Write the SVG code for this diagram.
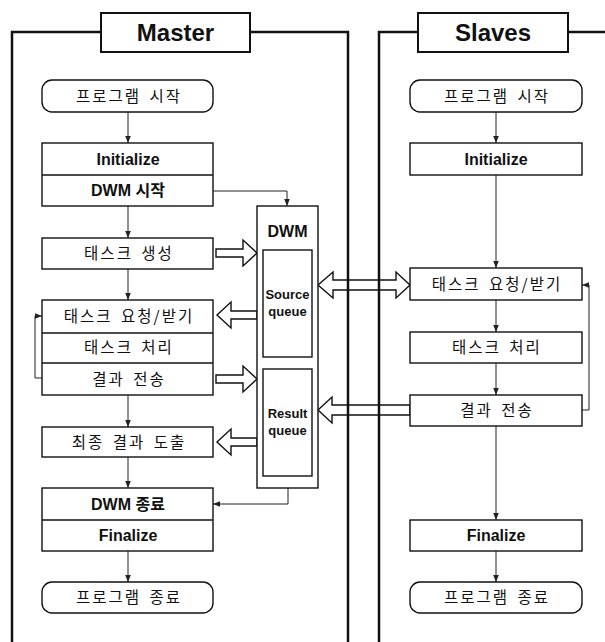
<svg xmlns="http://www.w3.org/2000/svg" width="605" height="642" viewBox="0 0 605 642">
<style>
.frame{fill:none;stroke:#111;stroke-width:2.5}
.lbl{fill:#fff;stroke:#111;stroke-width:2}
.box{fill:#fff;stroke:#111;stroke-width:1.4}
.sep{stroke:#111;stroke-width:1.4}
.con{fill:none;stroke:#222;stroke-width:1}
.blk{fill:#fff;stroke:#111;stroke-width:1.4;stroke-linejoin:miter}
.kr{font-family:"Noto Sans CJK KR","Noto Sans",sans-serif;font-size:15.5px;letter-spacing:2px;word-spacing:3px;fill:#111;text-anchor:middle}
.en{font-family:"Liberation Sans","Noto Sans CJK KR",sans-serif;font-size:16px;font-weight:bold;fill:#111;text-anchor:middle}
.ttl{font-family:"Liberation Sans",sans-serif;font-size:24px;font-weight:bold;fill:#111;text-anchor:middle}
.q{font-family:"Liberation Sans",sans-serif;font-size:13px;font-weight:bold;fill:#111;text-anchor:middle}
</style>
<defs>
<marker id="ah" viewBox="0 0 10 10" refX="10" refY="5" markerWidth="7" markerHeight="7" orient="auto" markerUnits="userSpaceOnUse">
<path d="M0,1 L10,5 L0,9 Z" fill="#222"/>
</marker>
</defs>

<g id="connectors">
<line class="con" x1="128" y1="112" x2="128" y2="143" marker-end="url(#ah)"/>
<line class="con" x1="128" y1="206" x2="128" y2="238" marker-end="url(#ah)"/>
<line class="con" x1="128" y1="269" x2="128" y2="300" marker-end="url(#ah)"/>
<line class="con" x1="128" y1="395" x2="128" y2="427" marker-end="url(#ah)"/>
<line class="con" x1="128" y1="457" x2="128" y2="488" marker-end="url(#ah)"/>
<line class="con" x1="128" y1="551" x2="128" y2="582" marker-end="url(#ah)"/>
<polyline class="con" points="42,378 35,378 35,316 42,316" marker-end="url(#ah)"/>
<polyline class="con" points="213,191 287,191 287,206" marker-end="url(#ah)"/>
<polyline class="con" points="288,488 288,504 213,504" marker-end="url(#ah)"/>
<line class="con" x1="496" y1="112" x2="496" y2="143" marker-end="url(#ah)"/>
<line class="con" x1="496" y1="175" x2="496" y2="268" marker-end="url(#ah)"/>
<line class="con" x1="496" y1="300" x2="496" y2="332" marker-end="url(#ah)"/>
<line class="con" x1="496" y1="363" x2="496" y2="395" marker-end="url(#ah)"/>
<line class="con" x1="496" y1="426" x2="496" y2="520" marker-end="url(#ah)"/>
<line class="con" x1="496" y1="551" x2="496" y2="582" marker-end="url(#ah)"/>
<polyline class="con" points="582,410 589,410 589,285 582,285" marker-end="url(#ah)"/>
<polygon class="blk" points="216,249 243,249 243,240 257,253 243,266 243,257 216,257"/>
<polygon class="blk" points="257,311 231,311 231,302 217,315 231,328 231,319 257,319"/>
<polygon class="blk" points="216,375 243,375 243,366 257,379 243,392 243,383 216,383"/>
<polygon class="blk" points="257,438 231,438 231,429 217,442 231,455 231,446 257,446"/>
<polygon class="blk" points="318,285 333,272 333,280 396,280 396,272 410,285 396,298 396,290 333,290 333,298"/>
<polygon class="blk" points="410,405 332,405 332,397 318,410 332,423 332,415 410,415"/>
</g>

<g id="master-frame">
<polyline class="frame" points="12,642 12,32 101,32"/>
<polyline class="frame" points="250,32 348,32 348,642"/>
<rect class="lbl" x="101" y="13" width="149" height="39"/>
<text class="ttl" x="175.5" y="41">Master</text>
</g>
<g id="slaves-frame">
<polyline class="frame" points="379,642 379,32 418,32"/>
<line class="frame" x1="568" y1="32" x2="605" y2="32"/>
<rect class="lbl" x="418" y="13" width="150" height="39"/>
<text class="ttl" x="493" y="41">Slaves</text>
</g>

<g id="m-start">
<rect class="box" x="42" y="80" width="171" height="32" rx="10"/>
<text class="kr" x="129" y="102">프로그램 시작</text>
</g>
<g id="m-init">
<rect class="box" x="42" y="143" width="171" height="63"/>
<line class="sep" x1="42" y1="175" x2="213" y2="175"/>
<text class="en" x="128" y="165">Initialize</text>
<text class="en" x="128" y="196">DWM 시작</text>
</g>
<g id="m-gen">
<rect class="box" x="42" y="238" width="171" height="31"/>
<text class="kr" x="129" y="259">태스크 생성</text>
</g>
<g id="m-work">
<rect class="box" x="42" y="300" width="171" height="95"/>
<line class="sep" x1="42" y1="333" x2="213" y2="333"/>
<line class="sep" x1="42" y1="363" x2="213" y2="363"/>
<text class="kr" x="129" y="322">태스크 요청/받기</text>
<text class="kr" x="129" y="353">태스크 처리</text>
<text class="kr" x="129" y="385">결과 전송</text>
</g>
<g id="m-final-result">
<rect class="box" x="42" y="427" width="171" height="30"/>
<text class="kr" x="129" y="448">최종 결과 도출</text>
</g>
<g id="m-end-dwm">
<rect class="box" x="42" y="488" width="171" height="63"/>
<line class="sep" x1="42" y1="520" x2="213" y2="520"/>
<text class="en" x="128" y="510">DWM 종료</text>
<text class="en" x="128" y="541">Finalize</text>
</g>
<g id="m-end">
<rect class="box" x="42" y="582" width="171" height="31" rx="10"/>
<text class="kr" x="129" y="603">프로그램 종료</text>
</g>

<g id="dwm">
<rect class="box" x="257" y="206" width="61" height="282"/>
<text class="en" x="287.5" y="237">DWM</text>
</g>
<g id="source-queue">
<rect class="box" x="263" y="250" width="49" height="107"/>
<text class="q" x="287.5" y="299">Source</text>
<text class="q" x="287.5" y="316">queue</text>
</g>
<g id="result-queue">
<rect class="box" x="263" y="369" width="49" height="107"/>
<text class="q" x="287.5" y="418">Result</text>
<text class="q" x="287.5" y="435">queue</text>
</g>

<g id="s-start">
<rect class="box" x="410" y="80" width="172" height="32" rx="10"/>
<text class="kr" x="497" y="102">프로그램 시작</text>
</g>
<g id="s-init">
<rect class="box" x="410" y="143" width="172" height="32"/>
<text class="en" x="496" y="165">Initialize</text>
</g>
<g id="s-req">
<rect class="box" x="410" y="268" width="172" height="32"/>
<text class="kr" x="497" y="290">태스크 요청/받기</text>
</g>
<g id="s-proc">
<rect class="box" x="410" y="332" width="172" height="31"/>
<text class="kr" x="497" y="353">태스크 처리</text>
</g>
<g id="s-send">
<rect class="box" x="410" y="395" width="172" height="31"/>
<text class="kr" x="497" y="416">결과 전송</text>
</g>
<g id="s-finalize">
<rect class="box" x="410" y="520" width="172" height="31"/>
<text class="en" x="496" y="541">Finalize</text>
</g>
<g id="s-end">
<rect class="box" x="410" y="582" width="172" height="31" rx="10"/>
<text class="kr" x="497" y="603">프로그램 종료</text>
</g>
</svg>
